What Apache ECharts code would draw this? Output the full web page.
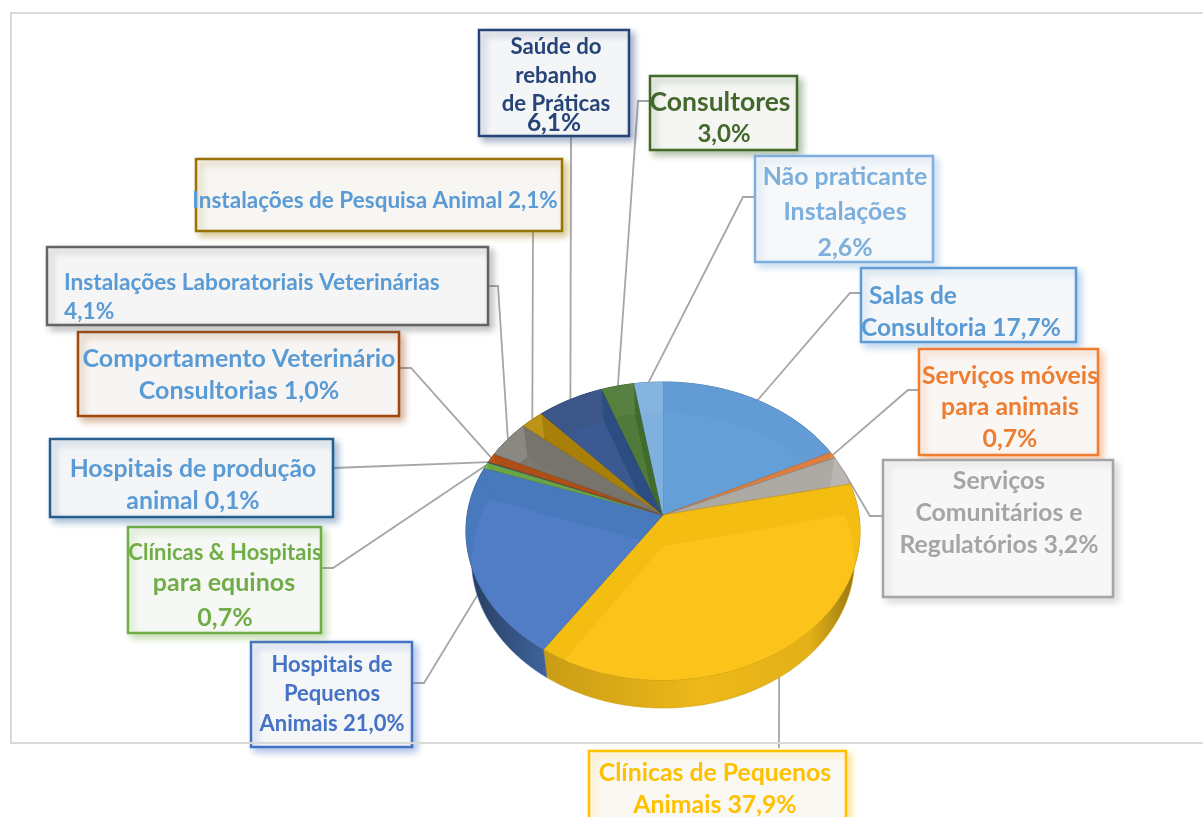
<!DOCTYPE html>
<html><head><meta charset="utf-8">
<style>html,body{margin:0;padding:0;background:#fff;overflow:hidden}#c{width:1203px;height:817px}</style>
<script src="https://cdn.jsdelivr.net/npm/echarts@6/dist/echarts.min.js"></script>
</head><body><div id="c"></div>
<script>
const categories = ["Salas de Consultoria","Serviços móveis para animais","Serviços Comunitários e Regulatórios","Clínicas de Pequenos Animais","Hospitais de Pequenos Animais","Clínicas & Hospitais para equinos","Hospitais de produção animal","Comportamento Veterinário Consultorias","Instalações Laboratoriais Veterinárias","Instalações de Pesquisa Animal","Saúde do rebanho de Práticas","Consultores","Não praticante Instalações"];
const values = [17.7,0.7,3.2,37.9,21.0,0.7,0.1,1.0,4.1,2.1,6.1,3.0,2.6];
const faceColors = ["#659FD7","#E8884A","#ADA9A3","#FCC41A","#507DC6","#74B04E","#2F6498","#B9571A","#7A7870","#B58A12","#3B5A92","#4F7A3A","#80B1DE"];
const bandColors = ["#639CD4","#DD7F40","#ADA9A3","#F4BD12","#4779BC","#6AA545","#2A5E90","#AC4E15","#76746C","#A87F08","#2B4D82","#3F6B2C","#7DAEDC"];
const rimColors = ["#639CD4","#E8884A","#B9B6B1","#F4BD12","#4779BC","#74B04E","#2F6498","#B9571A","#8A8883","#BC9418","#3C5688","#588040","#85B4E0"];
const borderColors = ["#5B9BD5","#ED7D31","#A5A5A5","#FFC000","#4472C4","#70AD47","#255E91","#9E480E","#636363","#997300","#264478","#43682B","#7CAFDD"];
const textColors = ["#5B9BD5","#ED7D31","#A5A5A5","#FFC000","#4472C4","#70AD47","#5B9BD5","#5B9BD5","#5B9BD5","#5B9BD5","#264478","#43682B","#7CAFDD"];
const labelLines = [["Salas de","Consultoria 17,7%"],["Serviços móveis","para animais","0,7%"],["Serviços","Comunitários e","Regulatórios 3,2%"],["Clínicas de Pequenos","Animais 37,9%"],["Hospitais de","Pequenos","Animais 21,0%"],["Clínicas & Hospitais","para equinos","0,7%"],["Hospitais de produção","animal 0,1%"],["Comportamento Veterinário","Consultorias 1,0%"],["Instalações Laboratoriais Veterinárias","4,1%"],["Instalações de Pesquisa Animal 2,1%"],["Saúde do","rebanho","de Práticas","6,1%"],["Consultores","3,0%"],["Não praticante","Instalações","2,6%"]];

// layout of the call-outs: box [x0,y0,x1,y1], text rows [x,y], font size, align, leader path, tip shift
const layout = [
 {box:[861,268,1076,342],rows:[[869,296],[861,328]],size:24.5,align:"left",path:[[861,293],[850,293]],shift:[0,0]},
 {box:[919,349,1098,455],rows:[[1010,376],[1010,407],[1010,439]],size:24.8,align:"center",path:[[919,390],[908,390]],shift:[0,0]},
 {box:[883,460,1113,597],rows:[[999,481],[999,513],[999,545]],size:24.8,align:"center",path:[[883,516],[870,516]],shift:[0,0]},
 {box:[589,751,846,830],rows:[[715,773],[715,805]],size:24.8,align:"center",path:[[779,748]],shift:[-5,0]},
 {box:[251,642,412,747],rows:[[332,665],[332,694],[332,724]],size:22,align:"center",path:[[412,683],[424,683]],shift:[26,0]},
 {box:[128,527,321,633],rows:[[225,553],[224,583],[225,618]],size:[22,25,25],align:"center",path:[[321,568],[333,568]],shift:[0,0]},
 {box:[50,439,333,517],rows:[[193,469],[193,501]],size:24.8,align:"center",path:[[333,468]],shift:[0,0]},
 {box:[78,332,399,416],rows:[[239,359],[239,391]],size:25,align:"center",path:[[399,368],[411,368]],shift:[0,0]},
 {box:[47,247,488,325],rows:[[64,283],[64,312]],size:22.7,align:"left",path:[[488,286],[498,286]],shift:[0,0]},
 {box:[196,159,562,231],rows:[[375,201]],size:22.5,align:"center",path:[[533,231]],shift:[0,0]},
 {box:[479,30,629,136],rows:[[556,47],[556,76],[556,104],[554,123]],size:[22.2,22.2,22.2,24.5],align:"center",path:[[571,136]],shift:[0,0]},
 {box:[650,76,797,150],rows:[[720,102],[724,134]],size:[26.5,24],align:"center",path:[[650,101],[638,101]],shift:[0,0]},
 {box:[755,156,933,262],rows:[[845,177],[845,212],[845,248]],size:24.9,align:"center",path:[[755,197],[743,197]],shift:[0,0]}
];

// pie projection: a tilted disc seen in perspective; the lower rim is a little narrower than the upper one
const apex = [663,515], discX = 195.9, discY = 147.3, persp = -0.1074, depth = 28, lowerScale = 0.972;
const total = values.reduce((a,b)=>a+b,0);
function project(t){ // t = fraction of the full turn, clockwise from 12 o'clock
  const a = t*2*Math.PI, u = Math.sin(a), v = -Math.cos(a), d = 1+persp*v;
  return [apex[0]+discX*u/d, apex[1]+discY*v/d];
}
function lower(p,extra){ return [apex[0]+(p[0]-apex[0])*lowerScale, p[1]+depth+(extra||0)]; }
function arc(t0,t1){
  const n = Math.max(2,Math.ceil((t1-t0)*180)), pts=[];
  for(let i=0;i<=n;i++) pts.push(project(t0+(t1-t0)*i/n));
  return pts;
}
function clipConvex(subject,clip){
  let area=0; for(let i=0;i<clip.length;i++){const a=clip[i],b=clip[(i+1)%clip.length];area+=a[0]*b[1]-b[0]*a[1];}
  const s=Math.sign(area); let out=subject;
  const side=(a,b,p)=>s*((b[0]-a[0])*(p[1]-a[1])-(b[1]-a[1])*(p[0]-a[0]));
  for(let i=0;i<clip.length&&out.length;i++){
    const a=clip[i],b=clip[(i+1)%clip.length]; if(Math.hypot(a[0]-b[0],a[1]-b[1])<1e-6) continue;
    const inp=out; out=[];
    for(let j=0;j<inp.length;j++){
      const p=inp[j],q=inp[(j+1)%inp.length],sp=side(a,b,p),sq=side(a,b,q);
      if(sp>=0) out.push(p);
      if((sp>=0)!==(sq>=0)){const k=sp/(sp-sq);out.push([p[0]+(q[0]-p[0])*k,p[1]+(q[1]-p[1])*k]);}
    }
  }
  return out;
}
function mix(hex,other,t){
  const p=h=>[1,3,5].map(i=>parseInt(h.substr(i,2),16));
  const a=p(hex),b=p(other);
  return "rgb("+a.map((c,i)=>Math.round(c+(b[i]-c)*t)).join(",")+")";
}
let running=0;
const sliceData = values.map((v,i)=>{const s=running/total;running+=v;return [s,running/total,i];});

function renderWall(params,api){
  const t0=api.value(0),t1=api.value(1),i=api.value(2),c=faceColors[i];
  const top=arc(t0,t1),low=top.map(p=>lower(p)).reverse();
  const fill={type:"linear",x:472,y:0,x2:856,y2:0,global:true,colorStops:[
    {offset:0,color:mix(c,"#000000",.5)},{offset:.2,color:mix(c,"#000000",.2)},
    {offset:.6,color:mix(c,"#000000",.06)},{offset:.88,color:mix(c,"#000000",.1)},{offset:1,color:mix(c,"#000000",.4)}]};
  return {type:"polygon",shape:{points:top.concat(low)},style:{fill:fill,stroke:mix(c,"#000000",.18),lineWidth:.6}};
}
function renderFace(params,api){
  const t0=api.value(0),t1=api.value(1),i=api.value(2);
  const rim=arc(t0,t1),face=[apex].concat(rim);
  const inner=clipConvex(face.map(p=>lower(p,3)),face);
  const rimZone=clipConvex(rim.concat(rim.map(p=>lower(p,3)).reverse()),face);
  const kids=[{type:"polygon",shape:{points:face},style:{fill:bandColors[i],stroke:mix(faceColors[i],"#000000",.22),lineWidth:.7}}];
  if(inner.length>2) kids.push({type:"polygon",shape:{points:inner},style:{fill:faceColors[i]}});
  if(rimZone.length>2) kids.push({type:"polygon",shape:{points:rimZone},style:{fill:rimColors[i]}});
  return {type:"group",children:kids};
}

const graphics=[];
graphics.push({type:"rect",z:65,silent:true,shape:{x:11,y:13,width:1300,height:730},style:{fill:"none",stroke:"#D9D9D9",lineWidth:2}});
layout.forEach((L,i)=>{
  const d=sliceData[i],tip=project((d[0]+d[1])/2);
  graphics.push({type:"polyline",z:1,silent:true,shape:{points:L.path.concat([[tip[0]+L.shift[0],tip[1]+L.shift[1]]])},style:{fill:"none",stroke:"#A6A6A6",lineWidth:1.8}});
  const [x0,y0,x1,y1]=L.box;
  graphics.push({type:"rect",z:60,silent:true,shape:{x:x0,y:y0,width:x1-x0,height:y1-y0},
    style:{fill:mix(borderColors[i],"#FAFAFA",.97),stroke:borderColors[i],lineWidth:2.5,shadowBlur:7,shadowOffsetX:4,shadowOffsetY:4,shadowColor:borderColors[i]+"66"}});
  labelLines[i].forEach((t,k)=>{
    const size=Array.isArray(L.size)?L.size[k]:L.size;
    graphics.push({type:"text",z:70,silent:true,style:{text:t,x:L.rows[k][0],y:L.rows[k][1],align:L.align,verticalAlign:"middle",fill:textColors[i],font:"bold "+size+"px Lato"}});
  });
});

const chart=echarts.init(document.getElementById("c"),null,{renderer:"canvas"});
chart.setOption({
  animation:false,backgroundColor:"#fff",
  series:[
    {type:"custom",name:"Parede",coordinateSystem:"none",z:5,silent:true,data:sliceData,renderItem:renderWall},
    {type:"custom",name:"Setores",coordinateSystem:"none",z:6,silent:true,data:sliceData.map((d,i)=>({name:categories[i],value:d})),renderItem:renderFace}
  ],
  graphic:graphics
});
</script></body></html>
